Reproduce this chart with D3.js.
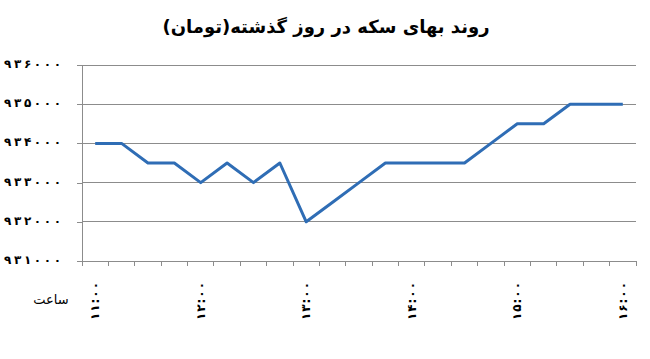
<!DOCTYPE html>
<html><head><meta charset="utf-8">
<script src="https://cdn.jsdelivr.net/npm/d3@7"></script>
<style>
html,body{margin:0;padding:0;background:#fff;}
svg{display:block;}
</style></head>
<body>
<svg id="c" width="650" height="359"></svg>
<script>
const title = "روند بهای سکه در روز گذشته(تومان)";
const xTitle = "ساعت";
const categories = ["۱۱:۰۰","۱۱:۱۵","۱۱:۳۰","۱۱:۴۵","۱۲:۰۰","۱۲:۱۵","۱۲:۳۰","۱۲:۴۵","۱۳:۰۰","۱۳:۱۵","۱۳:۳۰","۱۳:۴۵","۱۴:۰۰","۱۴:۱۵","۱۴:۳۰","۱۴:۴۵","۱۵:۰۰","۱۵:۱۵","۱۵:۳۰","۱۵:۴۵","۱۶:۰۰"];
const values = [934000,934000,933500,933500,933000,933500,933000,933500,932000,932500,933000,933500,933500,933500,933500,934000,934500,934500,935000,935000,935000];
const tickLabels = ["۱۱:۰۰","۱۲:۰۰","۱۳:۰۰","۱۴:۰۰","۱۵:۰۰","۱۶:۰۰"];
const yTicks = [931000,932000,933000,934000,935000,936000];

const fa = s => String(s).replace(/[0-9]/g, d => "۰۱۲۳۴۵۶۷۸۹"[+d]);
const svg = d3.select("#c");
const L = 82, R = 636, T = 65, B = 261;
const x = d3.scaleBand().domain(categories).range([L, R]).padding(0);
const y = d3.scaleLinear().domain([931000, 936000]).range([B, T]);
const grid = "#8c8c8c";

// gridlines
svg.append("g").selectAll("line").data(yTicks.slice(1)).join("line")
  .attr("x1", L).attr("x2", R).attr("y1", d => y(d)).attr("y2", d => y(d))
  .attr("stroke", grid).attr("stroke-width", 1).attr("shape-rendering","crispEdges");

// left axis
const ya = svg.append("g").attr("transform", `translate(${L},0)`)
  .call(d3.axisLeft(y).tickValues(yTicks).tickSize(5).tickPadding(16).tickFormat(d => fa(d)));
ya.select(".domain").attr("stroke", grid).attr("shape-rendering","crispEdges");
ya.selectAll(".tick line").attr("stroke", grid).attr("shape-rendering","crispEdges");
ya.selectAll("text").attr("font-family","DejaVu Sans").attr("font-size", 12).attr("font-weight","bold")
  .attr("fill","#000").attr("dy","0.2em").attr("textLength", 57).attr("lengthAdjust","spacing");

// bottom axis (ticks between categories)
const xa = svg.append("g");
xa.append("line").attr("x1", L).attr("x2", R).attr("y1", B).attr("y2", B)
  .attr("stroke", grid).attr("shape-rendering","crispEdges");
const bounds = categories.map(c => x(c)).concat([R]);
xa.selectAll("line.t").data(bounds).join("line").attr("class","t")
  .attr("x1", d => d).attr("x2", d => d).attr("y1", B).attr("y2", B + 5)
  .attr("stroke", grid).attr("shape-rendering","crispEdges");
xa.selectAll("text").data(tickLabels).join("text")
  .attr("transform", d => `translate(${x(d) + x.bandwidth()/2 + 4},282) rotate(-90)`)
  .attr("text-anchor","end")
  .attr("font-family","DejaVu Sans").attr("font-size", 12).attr("font-weight","bold").attr("fill","#000")
  .attr("textLength", 38).attr("lengthAdjust","spacing")
  .text(d => d);

// line
const line = d3.line().x((d,i) => x(categories[i]) + x.bandwidth()/2).y(d => y(d));
svg.append("path").datum(values).attr("d", line)
  .attr("fill","none").attr("stroke","#2f6db5").attr("stroke-width", 3).attr("stroke-linejoin","round");

// titles
svg.append("text").attr("x", 326).attr("y", 33).attr("text-anchor","middle")
  .attr("font-family","DejaVu Sans").attr("font-weight","bold").attr("font-size", 18).attr("fill","#000")
  .attr("direction","rtl").text(title);
svg.append("text").attr("x", 51).attr("y", 304).attr("text-anchor","middle")
  .attr("font-family","DejaVu Sans").attr("font-size", 13).attr("fill","#000")
  .text(xTitle);
</script>
</body></html>
